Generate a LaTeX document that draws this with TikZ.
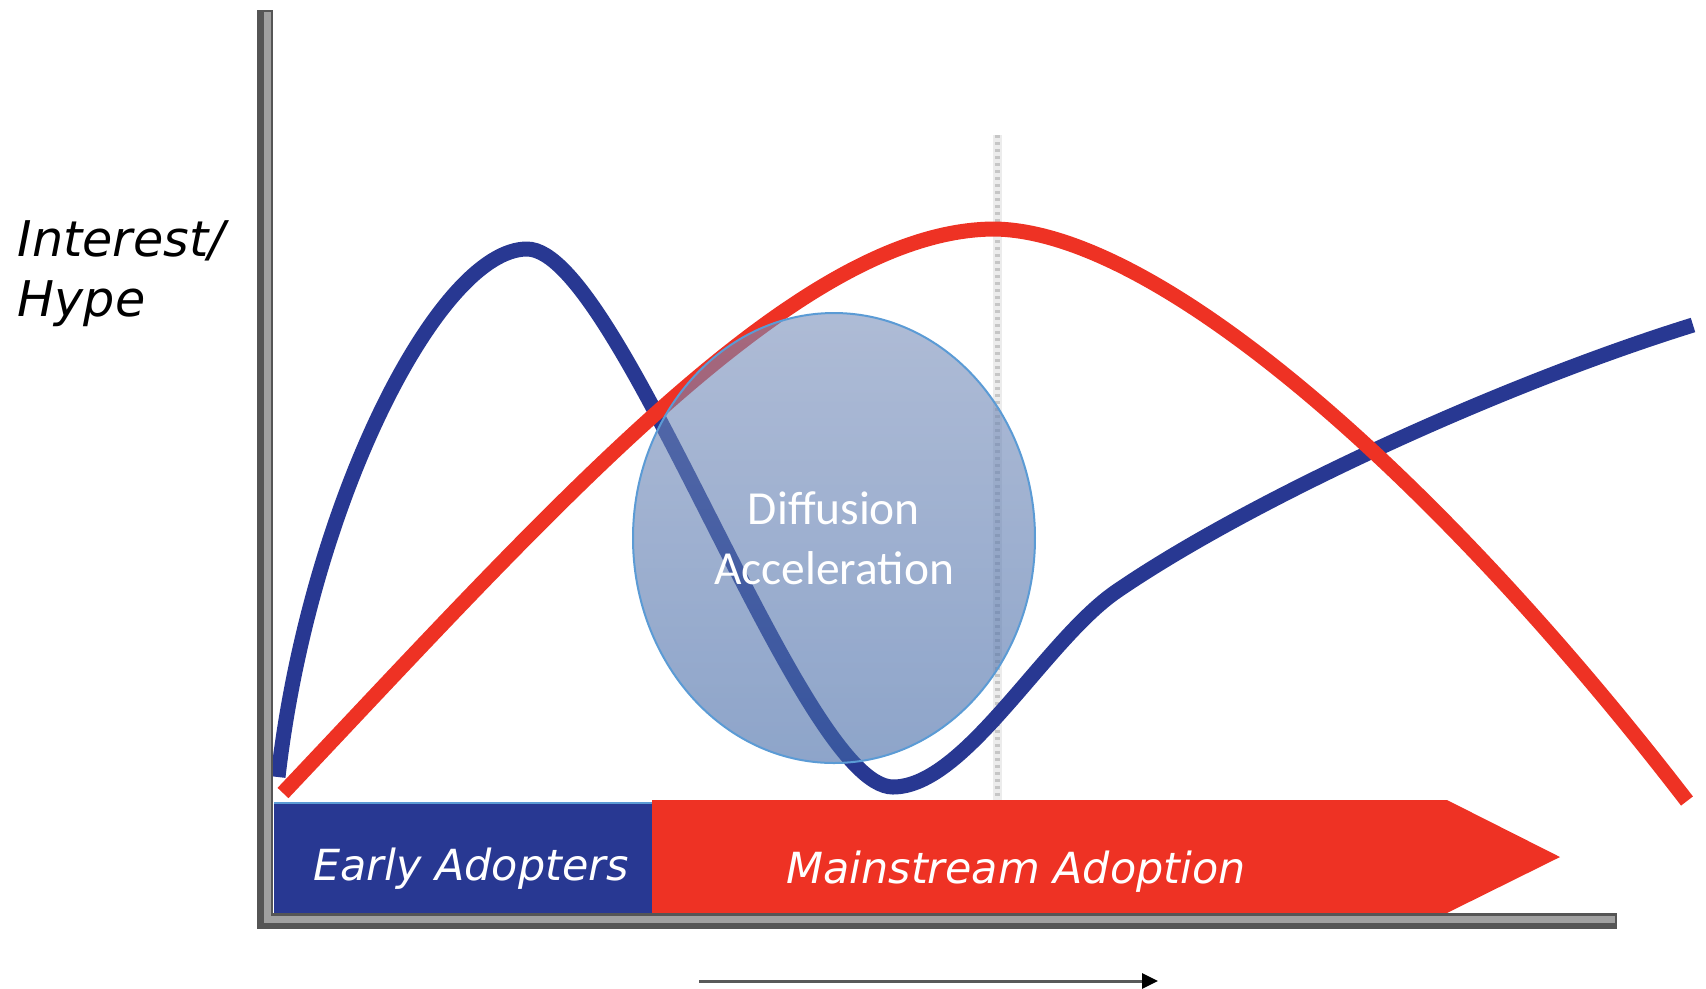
\documentclass[tikz,border=0pt]{standalone}
\usepackage{fontspec}
\setmainfont{DejaVu Sans}
\newfontfamily\calibrifont{Carlito}
\usepackage{tikz}
\usetikzlibrary{shapes.geometric,arrows.meta,positioning}

\definecolor{hypeblue}{RGB}{40,56,146}
\definecolor{hypered}{RGB}{238,50,36}
\definecolor{axisdark}{RGB}{85,85,85}
\definecolor{axislight}{RGB}{160,160,160}
\definecolor{ringblue}{RGB}{91,155,213}

\begin{document}
\begin{tikzpicture}[x=0.1mm, y=-0.1mm,
    curve/.style={line width=1.5mm},
    barlabel/.style={text=white, inner sep=0pt, font=\itshape\fontsize{12.2}{14}\selectfont}]
    \useasboundingbox (0,0) rectangle (1706,988);

    % Dotted marker line behind the curves
    \coordinate (mtop) at (997,135);
    \coordinate (mbot) at (997,800);
    \draw[line width=0.9mm, gray!15] (mtop) -- (mbot);
    \draw[line width=0.5mm, gray!45, dash pattern=on 0.3mm off 0.4mm] (mtop) -- (mbot);

    % Draw the hype curve (blue)
    \draw[curve, hypeblue] (278,777) .. controls (310,500) and (440,249) .. (527,249)
        .. controls (620,249) and (800,787) .. (893,787)
        .. controls (965,787) and (1045,640) .. (1117,591)
        .. controls (1250,500) and (1500,385) .. (1693,325);

    % Draw the adoption curve (red)
    \draw[curve, hypered] (283,793) .. controls (560,500) and (800,229) .. (995,229)
        .. controls (1160,232) and (1440,480) .. (1687,801);

    % Shade the diffusion ellipse on top
    \node[ellipse, minimum width=40.2mm, minimum height=45mm, inner sep=0pt,
          top color={rgb,255:red,120;green,142;blue,186},
          bottom color={rgb,255:red,66;green,104;blue,166},
          fill opacity=0.6, draw=ringblue, draw opacity=1, line width=0.2mm,
          text=white, text opacity=1, align=center,
          font=\calibrifont\fontsize{13.5}{17}\selectfont]
        (diffusion) at (834,538) {Diffusion\\Acceleration};

    % Early adopters bar and mainstream arrow
    \fill[hypeblue] (274,803) rectangle (652,913);
    \draw[ringblue, line width=0.2mm] (274,803) -- (652,803);
    \fill[hypered] (652,800) -- (1447,800) -- (1560,857) -- (1447,913) -- (652,913) -- cycle;
    \node[barlabel, anchor=base] (early) at (471,880) {Early Adopters};
    \node[barlabel, anchor=base] (mainstream) at (1016,883) {Mainstream Adoption};

    % Draw the x and y axes
    \draw[line width=1.6mm, axisdark] (265,10) -- (265,921) -- (1617,921);
    \draw[line width=0.7mm, axislight] (267,12) -- (267,919) -- (1615,919);

    % Axis label
    \node[anchor=north west, inner sep=0pt, align=left,
          font=\itshape\fontsize{14}{17}\selectfont] (ylabel) at (17,220) {Interest/\\Hype};

    % Time arrow under the axis
    \coordinate (tstart) at (699,981);
    \coordinate (tend) at (1158,981);
    \draw[line width=0.3mm, gray!70!black,
          -{Triangle[length=1.6mm, width=1.5mm, color=black]}] (tstart) -- (tend);
\end{tikzpicture}
\end{document}
